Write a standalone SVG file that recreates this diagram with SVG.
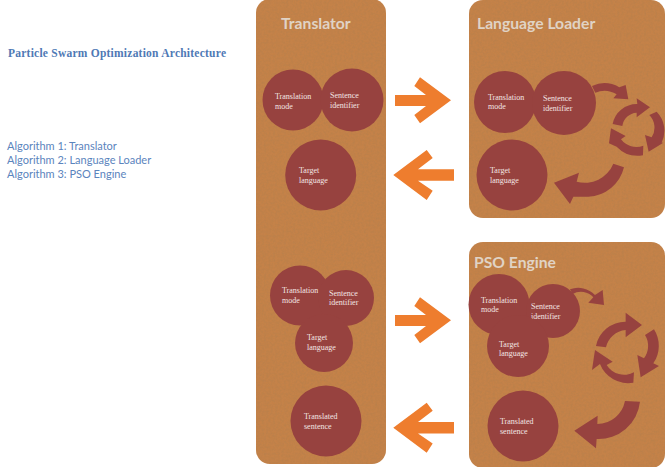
<svg xmlns="http://www.w3.org/2000/svg" width="665" height="467" viewBox="0 0 665 467">
<style>
.panel{fill:#c4824a;filter:url(#tex)}
.circle{fill:#97423f}
.flow{fill:#97423f}
.orange{fill:#ee7d2e}
.title{font-family:"Lato","Open Sans",sans-serif;font-weight:700;font-size:15.7px;fill:#e0d3c5}
.lbl{font-family:"Liberation Serif",serif;font-size:8px;fill:#f3e6e4}
.head{font-family:"Liberation Serif",serif;font-weight:700;font-size:11.5px;fill:#4f79b5}
.alg{font-family:"Lato","Open Sans",sans-serif;font-size:11px;fill:#5b84bd}
</style>
<defs>
<filter id="tex" x="-2%" y="-2%" width="104%" height="104%">
<feTurbulence type="fractalNoise" baseFrequency="0.45" numOctaves="3" seed="4" result="n"/>
<feColorMatrix in="n" type="matrix" values="0 0 0 0 0.35  0 0 0 0 0.2  0 0 0 0 0.08  0 0 0 0.55 -0.2" result="d"/>
<feComposite in="d" in2="SourceAlpha" operator="in" result="g"/>
<feGaussianBlur in="SourceGraphic" stdDeviation="0.5" result="s"/>
<feMerge><feMergeNode in="s"/><feMergeNode in="g"/></feMerge>
</filter>
</defs>
<rect width="665" height="467" fill="#ffffff"/>

<g id="caption">
<text class="head" x="8" y="56.7" textLength="218">Particle Swarm Optimization Architecture</text>
<text class="alg" x="7" y="149.7">Algorithm 1: Translator</text>
<text class="alg" x="7" y="164">Algorithm 2: Language Loader</text>
<text class="alg" x="7" y="178">Algorithm 3: PSO Engine</text>
</g>

<g id="translator-panel">
<rect class="panel" x="256" y="-1" width="130" height="465" rx="14"/>
<text class="title" x="281" y="29">Translator</text>
</g>
<g id="language-loader-panel">
<rect class="panel" x="469" y="0" width="196" height="218" rx="14"/>
<text class="title" x="477" y="29">Language Loader</text>
</g>
<g id="pso-engine-panel">
<rect class="panel" x="469" y="242" width="196" height="226" rx="14"/>
<text class="title" x="474" y="268">PSO Engine</text>
</g>

<g id="connectors">
<g class="orange">
<polygon points="395,95 426,95 414.3,86 420,77.3 451,100.3 420,123.3 414.3,115 426,106 395,106"/>
<polygon points="454,169.3 418,169.3 432.7,158 426.7,150 393.3,175 426.7,200 432.7,190.7 418,180.7 454,180.7"/>
<polygon points="395,315 426,315 414.3,306 420,297.3 451,320.3 420,343.3 414.3,335 426,326 395,326"/>
<polygon points="454,422 418,422 432.7,410.7 426.7,402.7 393.3,427.7 426.7,452.7 432.7,443.4 418,433.4 454,433.4"/>
</g>
<g class="flow" transform="translate(460 0) scale(0.3333)">
<path d="M396,258 A90,90 0 0 1 478,262 L497,255 L505,298 L460,295 L470,283 A70,70 0 0 0 406,278 Z"/>
<path d="M458,372 A74,74 0 0 1 532,312 L530,295 L570,322 L530,352 L530,338 A46,46 0 0 0 487,378 Z"/>
<path d="M568,345 L590,335 A82,82 0 0 1 605,428 L610,428 L566,455 L555,405 L575,412 A54,54 0 0 0 568,345 Z"/>
<path d="M550,437 L549,466 A88,88 0 0 1 470,440 L447,430 L453,385 L497,408 L483,418 A58,58 0 0 0 550,437 Z"/>
<path d="M460,491 L492,502 A115,115 0 0 1 385,590 L340,590 L330,612 L282,548 L357,518 L350,545 A92,92 0 0 0 460,491 Z"/>
</g>
<g class="flow" transform="translate(460 240) scale(0.3333)">
<path d="M330,148 A70,70 0 0 1 405,165 L428,150 L432,195 L385,188 L400,172 A50,50 0 0 0 338,162 Z"/>
<path d="M408,318 A90,90 0 0 1 497,245 L497,218 L546,255 L497,292 L497,270 A66,66 0 0 0 438,322 Z"/>
<path d="M555,285 L582,268 A92,92 0 0 1 580,370 L597,378 L542,412 L532,345 L552,355 A62,62 0 0 0 555,285 Z"/>
<path d="M522,397 L520,428 A90,90 0 0 1 420,372 L396,390 L405,330 L458,365 L440,375 A62,62 0 0 0 522,397 Z"/>
<path d="M495,483 L540,485 A125,125 0 0 1 410,597 L408,625 L343,572 L413,527 L412,552 A85,85 0 0 0 495,483 Z"/>
</g>
</g>

<g id="t1-translation-mode"><circle class="circle" cx="293" cy="100" r="30.5"/><text class="lbl" x="275" y="99">Translation</text><text class="lbl" x="275" y="108.5">mode</text></g>
<g id="t1-sentence-identifier"><circle class="circle" cx="352" cy="100" r="31.5"/><text class="lbl" x="330" y="98">Sentence</text><text class="lbl" x="330" y="108">identifier</text></g>
<g id="t1-target-language"><circle class="circle" cx="320.7" cy="175" r="35.5"/><text class="lbl" x="299" y="173">Target</text><text class="lbl" x="299" y="183">language</text></g>

<g id="t2-translation-mode"><circle class="circle" cx="300" cy="295.5" r="30"/><text class="lbl" x="282" y="293">Translation</text><text class="lbl" x="282" y="303">mode</text></g>
<g id="t2-sentence-identifier"><circle class="circle" cx="346" cy="298" r="28"/><text class="lbl" x="329" y="296">Sentence</text><text class="lbl" x="329" y="305">identifier</text></g>
<g id="t2-target-language"><circle class="circle" cx="324" cy="343" r="29"/><text class="lbl" x="307" y="340">Target</text><text class="lbl" x="307" y="350">language</text></g>
<g id="t2-translated-sentence"><circle class="circle" cx="326" cy="421" r="35.5"/><text class="lbl" x="304" y="419">Translated</text><text class="lbl" x="304" y="429">sentence</text></g>

<g id="l-translation-mode"><circle class="circle" cx="505" cy="102" r="31"/><text class="lbl" x="488" y="100">Translation</text><text class="lbl" x="488" y="109">mode</text></g>
<g id="l-sentence-identifier"><circle class="circle" cx="564" cy="103" r="32"/><text class="lbl" x="543" y="100.7">Sentence</text><text class="lbl" x="543" y="110.7">identifier</text></g>
<g id="l-target-language"><circle class="circle" cx="512" cy="175" r="35.5"/><text class="lbl" x="490" y="173">Target</text><text class="lbl" x="490" y="183">language</text></g>

<g id="p-translation-mode"><circle class="circle" cx="499" cy="304.5" r="30.5"/><text class="lbl" x="481" y="303">Translation</text><text class="lbl" x="481" y="312">mode</text></g>
<g id="p-sentence-identifier"><circle class="circle" cx="553" cy="311" r="27"/><text class="lbl" x="531" y="309">Sentence</text><text class="lbl" x="531" y="319">identifier</text></g>
<g id="p-target-language"><circle class="circle" cx="518" cy="346" r="31"/><text class="lbl" x="499" y="347">Target</text><text class="lbl" x="499" y="356">language</text></g>
<g id="p-translated-sentence"><circle class="circle" cx="523" cy="426" r="35.5"/><text class="lbl" x="500" y="424">Translated</text><text class="lbl" x="500" y="434">sentence</text></g>
</svg>
